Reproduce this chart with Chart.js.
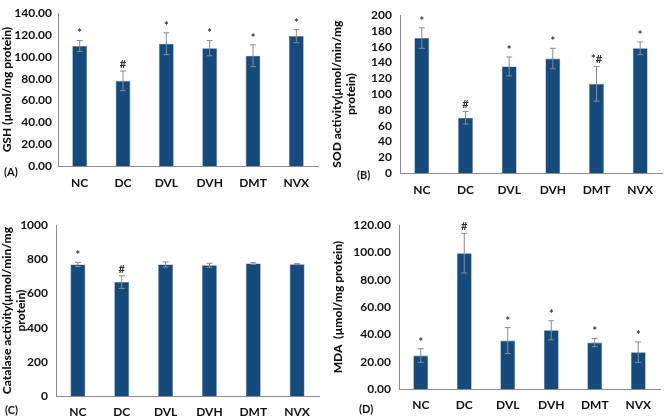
<!DOCTYPE html>
<html>
<head>
<meta charset="utf-8">
<script src="https://cdn.jsdelivr.net/npm/chart.js@4.4.1/dist/chart.umd.min.js"></script>
<style>
  body { margin: 0; background: #fff; width: 669px; height: 418px; position: relative; overflow: hidden; }
  canvas { position: absolute; }
  .tag { position: absolute; font: bold 11px Lato, sans-serif; color: #111; }
</style>
</head>
<body>
<canvas id="cA" width="330" height="210" style="left:0;top:0"></canvas>
<canvas id="cB" width="339" height="210" style="left:330px;top:0"></canvas>
<canvas id="cC" width="330" height="208" style="left:0;top:210px"></canvas>
<canvas id="cD" width="339" height="208" style="left:330px;top:210px"></canvas>
<div class="tag" style="left:4px;top:165px">(A)</div>
<div class="tag" style="left:357px;top:168px">(B)</div>
<div class="tag" style="left:5px;top:403px">(C)</div>
<div class="tag" style="left:359px;top:402px">(D)</div>
<script>
const categories = ['NC', 'DC', 'DVL', 'DVH', 'DMT', 'NVX'];

const gshMean = [110, 78, 112, 108, 101, 119];
const gshErr = [5, 9, 10, 7, 10, 6];
const gshMarks = ['*', '#', '*', '*', '*', '*'];

const sodMean = [171, 70, 135, 145, 113, 158];
const sodErr = [13, 8, 12, 13, 22, 8];
const sodMarks = ['*', '#', '*', '*', '*#', '*'];

const catMean = [770, 667, 770, 765, 776, 772];
const catErr = [12, 37, 15, 12, 5, 3];
const catMarks = ['*', '#', '', '', '', ''];

const mdaMean = [24.5, 99.5, 35.5, 43, 34, 27];
const mdaErr = [5, 14.5, 9.5, 7, 3, 7.5];
const mdaMarks = ['*', '#', '*', '*', '*', '*'];

const barColor = '#164a7c';
const font = 'Lato, sans-serif';

const errBars = {
    id: 'errbars',
    afterDatasetsDraw(chart, args, opts) {
        const ctx = chart.ctx;
        const meta = chart.getDatasetMeta(0);
        const y = chart.scales.y;
        const vals = chart.data.datasets[0].data;
        ctx.save();
        meta.data.forEach((bar, i) => {
            const hi = y.getPixelForValue(vals[i] + opts.err[i]);
            const lo = y.getPixelForValue(vals[i] - opts.err[i]);
            ctx.strokeStyle = '#8c8c8c';
            ctx.lineWidth = 1;
            ctx.beginPath();
            ctx.moveTo(bar.x, hi); ctx.lineTo(bar.x, lo);
            ctx.moveTo(bar.x - 3, hi); ctx.lineTo(bar.x + 3, hi);
            ctx.moveTo(bar.x - 3, lo); ctx.lineTo(bar.x + 3, lo);
            ctx.stroke();
            if (opts.marks[i]) {
                ctx.fillStyle = '#333';
                ctx.font = 'bold 11px ' + font;
                ctx.textAlign = 'center';
                ctx.textBaseline = 'alphabetic';
                ctx.fillText(opts.marks[i], bar.x, hi - 3);
            }
        });
        ctx.restore();
    }
};

function makeChart(id, mean, err, marks, cfg) {
    new Chart(document.getElementById(id), {
        type: 'bar',
        data: {
            labels: categories,
            datasets: [{
                data: mean,
                backgroundColor: barColor,
                borderColor: '#4f739a',
                borderWidth: 0.6,
                categoryPercentage: 1,
                barPercentage: 0.34
            }]
        },
        plugins: [errBars],
        options: {
            responsive: false,
            animation: false,
            layout: { padding: { top: cfg.top, right: cfg.right, left: cfg.lpad, bottom: 0 } },
            plugins: {
                legend: { display: false },
                tooltip: { enabled: false },
                errbars: { err: err, marks: marks }
            },
            scales: {
                x: {
                    grid: { display: false, drawTicks: false },
                    border: { display: true, color: '#8c8c8c' },
                    ticks: { color: '#111', font: { family: font, size: 12, weight: 'bold' }, padding: cfg.xpad },
                    afterFit: s => { s.height = cfg.bottom; }
                },
                y: {
                    min: 0, max: cfg.max,
                    grid: { display: false, drawTicks: false },
                    border: { display: true, color: '#8c8c8c' },
                    ticks: {
                        stepSize: cfg.step,
                        autoSkip: false,
                        padding: cfg.ypad,
                        color: '#111',
                        font: { family: font, size: 12, weight: 'bold' },
                        callback: v => v.toFixed(cfg.dec)
                    },
                    title: {
                        display: true, text: cfg.title, color: '#111',
                        font: { family: font, size: 12, weight: 900, lineHeight: 1.15 },
                        padding: 0
                    },
                    afterFit: s => { s.width = cfg.left - cfg.lpad; }
                }
            }
        }
    });
}

makeChart('cA', gshMean, gshErr, gshMarks,
    { top: 12, right: 12, left: 58, lpad: 0, ypad: 6, bottom: 44, xpad: 10, max: 140, step: 20, dec: 2, title: 'GSH (µmol/mg protein)' });
makeChart('cB', sodMean, sodErr, sodMarks,
    { top: 6, right: 7, left: 70, lpad: 0, ypad: 8, bottom: 37, xpad: 10, max: 200, step: 20, dec: 0, title: ['SOD activity(µmol/min/mg', 'protein)'] });
makeChart('cC', catMean, catErr, catMarks,
    { top: 15, right: 11, left: 56, lpad: 0, ypad: 8, bottom: 22, xpad: 9, max: 1000, step: 200, dec: 0, title: ['Catalase activity(µmol/min/mg', 'protein)'] });
makeChart('cD', mdaMean, mdaErr, mdaMarks,
    { top: 14, right: 9, left: 69, lpad: 1, ypad: 8, bottom: 29, xpad: 9, max: 120, step: 20, dec: 2, title: 'MDA  (µmol/mg protein)' });
</script>
</body>
</html>
